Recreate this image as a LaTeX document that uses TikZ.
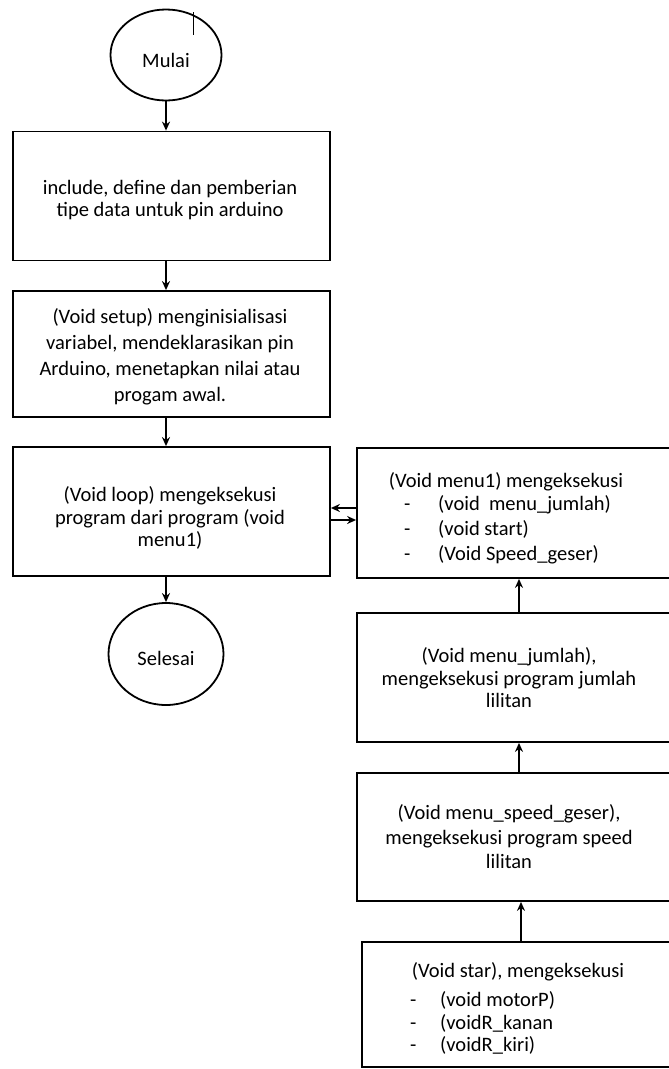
\documentclass[tikz,border=0pt]{standalone}
\usepackage{fontspec}
\setmainfont{Carlito}
\usetikzlibrary{arrows.meta,shapes.geometric}
\begin{document}
\begin{tikzpicture}[x=1pt,y=-1pt,
  boxnode/.style={draw, line width=1.8pt, rectangle, inner sep=0pt},
  ovalnode/.style={draw, line width=1.8pt, ellipse, inner sep=0pt},
  txt/.style={inner sep=0pt, align=center, font=\fontsize{20.5}{22.5}\selectfont},
  lst/.style={inner sep=0pt, align=left, anchor=west},
  arr/.style={line width=1.5pt, -{Stealth[length=9pt,width=8pt]}}]
\useasboundingbox (0,0) rectangle (669,1069);

% left column
\node[ovalnode, minimum width=111pt, minimum height=91pt] (mulai) at (166,55) {};
\node[txt] (mulait) at (166,60) {Mulai};
\draw[line width=0.9pt] (193,12) -- (193,35);
\node[boxnode, minimum width=317pt, minimum height=129pt] (b1) at (171.5,196) {};
\node[txt] (b1t) at (170,200) {include, define dan pemberian\\tipe data untuk pin arduino};
\node[boxnode, minimum width=317pt, minimum height=126pt] (b2) at (171.5,354) {};
\node[txt, font=\fontsize{20.5}{26}\selectfont] (b2t) at (170,357)
  {(Void setup) menginisialisasi\\variabel, mendeklarasikan pin\\Arduino, menetapkan nilai atau\\progam awal.};
\node[boxnode, minimum width=317pt, minimum height=129pt] (b3) at (171.5,511.5) {};
\node[txt] (b3t) at (170,518) {(Void loop) mengeksekusi\\program dari program (void\\menu1)};
\node[ovalnode, minimum width=115pt, minimum height=102pt] (selesai) at (166,654) {};
\node[txt] (selesait) at (166,658) {Selesai};

\draw[arr] (mulai.south) -- (mulai.south |- b1.north);
\draw[arr] (b1.south -| mulai.south) -- (b2.north -| mulai.south);
\draw[arr] (b2.south -| mulai.south) -- (b3.north -| mulai.south);
\draw[arr] (b3.south -| mulai.south) -- (selesai.north);

% right column (boxes run past the right edge of the picture)
\node[boxnode, minimum width=363pt, minimum height=130pt] (m1) at (538.5,513) {};
\node[boxnode, minimum width=363pt, minimum height=129pt] (jml) at (538.5,677.5) {};
\node[boxnode, minimum width=363pt, minimum height=128pt] (spd) at (538.5,837) {};
\node[boxnode, minimum width=358pt, minimum height=125pt] (star) at (541,1004.5) {};

\node[txt] (m1t) at (506,482) {(Void menu1) mengeksekusi};
\node[txt, lst, font=\fontsize{20.5}{25}\selectfont] (m1l) at (404,530)
  {\makebox[34pt][l]{-}(void\ \ menu\_jumlah)\\
   \makebox[34pt][l]{-}(void start)\\
   \makebox[34pt][l]{-}(Void Speed\_geser)};
\node[txt] (jmlt) at (509,678) {(Void menu\_jumlah),\\mengeksekusi program jumlah\\lilitan};
\node[txt, font=\fontsize{20.5}{24.5}\selectfont] (spdt) at (509,837) {(Void menu\_speed\_geser),\\mengeksekusi program speed\\lilitan};
\node[txt] (start) at (518,972) {(Void star), mengeksekusi};
\node[txt, lst] (starl) at (410,1023)
  {\makebox[30pt][l]{-}(void motorP)\\
   \makebox[30pt][l]{-}(voidR\_kanan\\
   \makebox[30pt][l]{-}(voidR\_kiri)};

\coordinate (rx) at (519,0);
\coordinate (rx2) at (521,0);
\coordinate (h1) at (0,508);
\coordinate (h2) at (0,520);
\draw[arr] (jml.north -| rx) -- (m1.south -| rx);
\draw[arr] (spd.north -| rx) -- (jml.south -| rx);
\draw[arr] (star.north -| rx2) -- (spd.south -| rx2);
\draw[arr] (m1.west |- h1) -- (b3.east |- h1);
\draw[arr] (b3.east |- h2) -- (m1.west |- h2);
\end{tikzpicture}
\end{document}
